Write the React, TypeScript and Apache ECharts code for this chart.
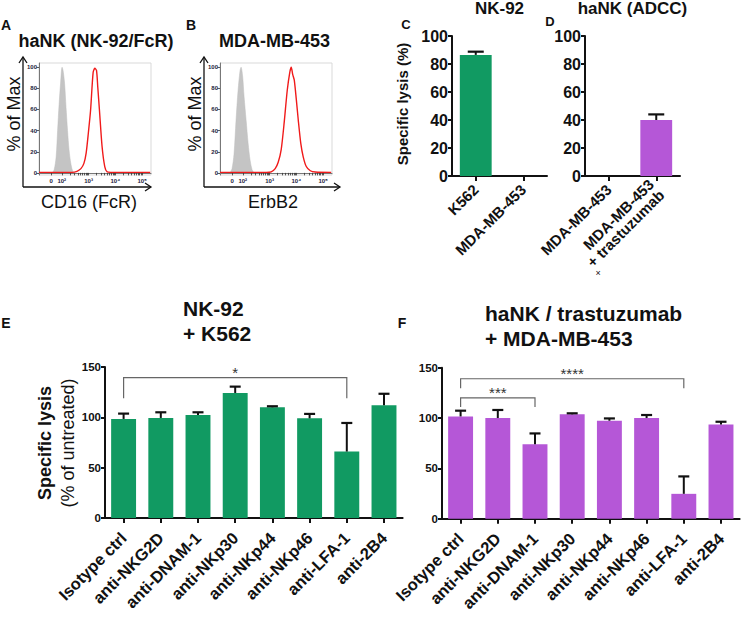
import React, { useEffect, useRef } from "react";
import * as echarts from "echarts";

// ---------- DATA ----------
// Flow histograms (x = log10 fluorescence, y = % of Max)
const GRAY_A: [number, number][] = [
  [1.64, 0], [1.715, 3], [1.789, 15], [1.844, 40], [1.9, 65], [1.956, 85], [2.011, 100],
  [2.048, 97], [2.104, 85], [2.159, 62], [2.215, 40], [2.27, 22], [2.344, 8], [2.419, 1], [2.49, 0],
];
const RED_A: [number, number][] = [
  [1.15, 0.5], [2.38, 0.5], [2.567, 1.5], [2.715, 4], [2.826, 9], [2.911, 19], [2.993, 38],
  [3.074, 59], [3.17, 95], [3.233, 99], [3.296, 97], [3.344, 81], [3.407, 59], [3.504, 25],
  [3.604, 6], [3.689, 1], [3.826, 0.5], [5.3, 0.5],
];
const GRAY_B: [number, number][] = [
  [1.524, 0], [1.599, 4], [1.674, 18], [1.749, 50], [1.824, 78], [1.899, 97], [1.936, 100],
  [1.993, 92], [2.049, 72], [2.124, 50], [2.199, 28], [2.273, 12], [2.348, 3], [2.423, 0],
];
const RED_B: [number, number][] = [
  [1.15, 0.5], [2.873, 0.5], [3.06, 1], [3.21, 4], [3.322, 10], [3.434, 22], [3.547, 48],
  [3.659, 78], [3.753, 95], [3.809, 100], [3.865, 93], [3.921, 88], [3.996, 70], [4.071, 50],
  [4.165, 28], [4.258, 15], [4.371, 6], [4.521, 2], [4.708, 0.8], [5.3, 0.5],
];
const HIST_TICK_VALUES = [1.6, 2, 3, 4, 5];
const HIST_TICK_LABELS = ["0", "10²", "10³", "10⁴", "10⁵"];
const HIST_Y_TICKS = [0, 20, 40, 60, 80, 100];

// Panel C / D
const C_CATS = ["K562", "MDA-MB-453"];
const C_VALS = [86.5, 0];
const C_ERR = [2.3, 0];
const D_CATS = ["MDA-MB-453", "MDA-MB-453\n+ trastuzumab"];
const D_VALS = [0, 40];
const D_ERR = [0, 4];

// Panel E / F
const EF_CATS = [
  "Isotype ctrl", "anti-NKG2D", "anti-DNAM-1", "anti-NKp30",
  "anti-NKp44", "anti-NKp46", "anti-LFA-1", "anti-2B4",
];
const E_VALS = [98.4, 99.4, 102.2, 124.2, 110, 99, 66, 112];
const E_ERR = [5.3, 5.6, 2.8, 6.3, 1, 4.4, 28.4, 11.4];
const F_VALS = [101.6, 100, 74, 103.7, 97.3, 100, 24.7, 93.7];
const F_ERR = [5.7, 8, 10.7, 1, 2.3, 3, 17.3, 2.6];
const E_SIG = [{ from: 0, to: 6, label: "*" }];
const F_SIG = [
  { from: 0, to: 6, label: "****" },
  { from: 0, to: 2, label: "***" },
];

// ---------- STYLE ----------
const FONT = '"Liberation Sans", Arial, Helvetica, sans-serif';
const GREEN = "#119a62";
const PURPLE = "#b557d7";
const BLACK = "#111";

function histMinorTicks(): number[] {
  const out: number[] = [1.6];
  for (let d = 2; d <= 4; d++) {
    for (let k = 1; k <= 9; k++) out.push(d + Math.log10(k));
  }
  out.push(5);
  return out;
}

function txt(x: number, y: number, text: string, size: number, weight = "bold", rot = 0, align = "center") {
  return {
    type: "text",
    x,
    y,
    rotation: rot,
    silent: true,
    style: {
      text,
      fontSize: size,
      fontWeight: weight,
      fontFamily: FONT,
      fill: BLACK,
      align,
      textAlign: align,
      verticalAlign: "middle",
      textVerticalAlign: "middle",
    },
  };
}

function line(points: number[][], w = 1.3, color = BLACK) {
  return {
    type: "polyline",
    silent: true,
    shape: { points },
    style: { stroke: color, lineWidth: w, fill: null },
  };
}

function errRender(halfCap: number) {
  return (params: any, api: any) => {
    const i = api.value(0);
    const v = api.value(1);
    const e = api.value(2);
    if (!e || !v) return { type: "group", children: [] };
    const a = api.coord([i, v]);
    const b = api.coord([i, v + e]);
    return {
      type: "group",
      children: [
        { type: "line", shape: { x1: a[0], y1: a[1], x2: b[0], y2: b[1] }, style: { stroke: BLACK, lineWidth: 2 } },
        { type: "line", shape: { x1: b[0] - halfCap, y1: b[1], x2: b[0] + halfCap, y2: b[1] }, style: { stroke: BLACK, lineWidth: 2.2 } },
      ],
    };
  };
}

function sigRender(sig: { from: number; to: number; label: string }[], levels: number[], legs: number[]) {
  return (params: any, api: any) => {
    const s = sig[params.dataIndex];
    const lv = levels[params.dataIndex];
    const lg = legs[params.dataIndex];
    const p1 = api.coord([s.from, lv]);
    const p2 = api.coord([s.to, lv]);
    const q = api.coord([s.from, lg]);
    return {
      type: "group",
      children: [
        {
          type: "polyline",
          shape: { points: [[p1[0], q[1]], [p1[0], p1[1]], [p2[0], p2[1]], [p2[0], q[1]]] },
          style: { stroke: "#666", lineWidth: 1.2, fill: null },
        },
        {
          type: "text",
          x: (p1[0] + p2[0]) / 2,
          y: p1[1] - 5,
          style: {
            text: s.label, fontSize: 15, fontFamily: FONT, fill: "#333",
            align: "center", textAlign: "center", verticalAlign: "middle", textVerticalAlign: "middle",
          },
        },
      ],
    };
  };
}

function histX(grid: number) {
  return {
    type: "value", gridIndex: grid, min: 1.15, max: 5.33,
    axisLine: { show: true, lineStyle: { color: "#777", width: 1 } },
    axisTick: { show: true, length: 2.5, customValues: histMinorTicks(), lineStyle: { color: "#333", width: 0.8 } },
    axisLabel: {
      customValues: HIST_TICK_VALUES,
      formatter: (v: number) => {
        const idx = HIST_TICK_VALUES.findIndex((t) => Math.abs(t - v) < 1e-6);
        return idx >= 0 ? HIST_TICK_LABELS[idx] : "";
      },
      fontSize: 6, fontWeight: "bold", color: "#1c1c3c", margin: 3, fontFamily: FONT,
    },
    splitLine: { show: false },
  };
}
function histY(grid: number) {
  return {
    type: "value", gridIndex: grid, min: -2, max: 104,
    axisLine: { show: true, lineStyle: { color: "#777", width: 1 } },
    axisTick: { show: true, length: 2.5, customValues: HIST_Y_TICKS, lineStyle: { color: "#333", width: 0.8 } },
    axisLabel: { customValues: HIST_Y_TICKS, fontSize: 6, fontWeight: "bold", color: "#1c1c3c", margin: 2, fontFamily: FONT },
    splitLine: { show: false },
  };
}
function barX(grid: number, cats: string[], size: number, margin: number, padding: number[]) {
  return {
    type: "category", gridIndex: grid, data: cats,
    axisLine: { show: true, lineStyle: { color: BLACK, width: 2 } },
    axisTick: { show: true, alignWithLabel: true, length: 5, lineStyle: { color: BLACK, width: 2 } },
    axisLabel: {
      interval: 0, rotate: 45, fontSize: size, fontWeight: "bold", color: BLACK,
      margin, padding, fontFamily: FONT,
    },
    splitLine: { show: false },
  };
}
function barY(grid: number, max: number, interval: number, size: number) {
  return {
    type: "value", gridIndex: grid, min: 0, max, interval,
    axisLine: { show: true, lineStyle: { color: BLACK, width: 2 } },
    axisTick: { show: true, length: 4, lineStyle: { color: BLACK, width: 2 } },
    axisLabel: { fontSize: size, fontWeight: "bold", color: BLACK, margin: 4, fontFamily: FONT },
    splitLine: { show: false },
  };
}

export default function App() {
  const ref = useRef<HTMLDivElement>(null);
  useEffect(() => {
    document.body.style.margin = "0";
    if (!ref.current) return;
    const chart = echarts.init(ref.current, undefined, { renderer: "svg" });
    const histGrid = { show: true, borderColor: "#d9d9d9", borderWidth: 1 };
    const option: any = {
      animation: false,
      backgroundColor: "#fff",
      textStyle: { fontFamily: FONT },
      grid: [
        { left: 39, top: 63, width: 112, height: 112, ...histGrid },
        { left: 220, top: 63, width: 112, height: 112, ...histGrid },
        { left: 452, top: 36, width: 95, height: 140 },
        { left: 585, top: 36, width: 95, height: 140 },
        { left: 105, top: 367, width: 297.6, height: 151 },
        { left: 442, top: 367.7, width: 297.6, height: 151 },
      ],
      xAxis: [
        histX(0), histX(1),
        barX(2, C_CATS, 15, 11, [20, 0, 0, 0]), barX(3, D_CATS, 15, 11, [20, 0, 0, 0]),
        barX(4, EF_CATS, 16.5, 17, [0, 0, 0, 0]), barX(5, EF_CATS, 16.5, 17, [0, 0, 0, 0]),
      ],
      yAxis: [
        histY(0), histY(1),
        barY(2, 100, 20, 16), barY(3, 100, 20, 16),
        barY(4, 150, 50, 11.5), barY(5, 150, 50, 11.5),
      ],
      series: [
        { type: "line", xAxisIndex: 0, yAxisIndex: 0, data: GRAY_A, symbol: "none", smooth: 0.3, lineStyle: { width: 0.5, color: "#bdbdbd" }, areaStyle: { color: "#c4c4c4", opacity: 1 }, z: 2 },
        { type: "line", xAxisIndex: 0, yAxisIndex: 0, data: RED_A, symbol: "none", smooth: 0.25, lineStyle: { width: 1.4, color: "#f01a1a" }, z: 3 },
        { type: "line", xAxisIndex: 1, yAxisIndex: 1, data: GRAY_B, symbol: "none", smooth: 0.3, lineStyle: { width: 0.5, color: "#bdbdbd" }, areaStyle: { color: "#c4c4c4", opacity: 1 }, z: 2 },
        { type: "line", xAxisIndex: 1, yAxisIndex: 1, data: RED_B, symbol: "none", smooth: 0.25, lineStyle: { width: 1.4, color: "#f01a1a" }, z: 3 },

        { type: "bar", xAxisIndex: 2, yAxisIndex: 2, data: C_VALS, barWidth: "67%", itemStyle: { color: GREEN } },
        { type: "custom", xAxisIndex: 2, yAxisIndex: 2, data: C_VALS.map((v, i) => [i, v, C_ERR[i]]), renderItem: errRender(8), encode: { x: 0, y: 1 }, z: 5 },
        { type: "bar", xAxisIndex: 3, yAxisIndex: 3, data: D_VALS, barWidth: "67%", itemStyle: { color: PURPLE } },
        { type: "custom", xAxisIndex: 3, yAxisIndex: 3, data: D_VALS.map((v, i) => [i, v, D_ERR[i]]), renderItem: errRender(8), encode: { x: 0, y: 1 }, z: 5 },

        { type: "bar", xAxisIndex: 4, yAxisIndex: 4, data: E_VALS, barWidth: "67%", itemStyle: { color: GREEN } },
        { type: "custom", xAxisIndex: 4, yAxisIndex: 4, data: E_VALS.map((v, i) => [i, v, E_ERR[i]]), renderItem: errRender(5.5), encode: { x: 0, y: 1 }, z: 5 },
        { type: "custom", xAxisIndex: 4, yAxisIndex: 4, data: E_SIG.map((s) => [s.from, s.to]), renderItem: sigRender(E_SIG, [139.5], [119]), encode: { x: 0 }, z: 6 },

        { type: "bar", xAxisIndex: 5, yAxisIndex: 5, data: F_VALS, barWidth: "67%", itemStyle: { color: PURPLE } },
        { type: "custom", xAxisIndex: 5, yAxisIndex: 5, data: F_VALS.map((v, i) => [i, v, F_ERR[i]]), renderItem: errRender(5.5), encode: { x: 0, y: 1 }, z: 5 },
        { type: "custom", xAxisIndex: 5, yAxisIndex: 5, data: F_SIG.map((s) => [s.from, s.to]), renderItem: sigRender(F_SIG, [139, 120], [129.5, 111]), encode: { x: 0 }, z: 6 },
      ],
      graphic: [
        // panel letters
        txt(6, 25, "A", 14), txt(191, 25, "B", 14), txt(406, 24, "C", 13), txt(550, 21, "D", 13),
        txt(6, 323, "E", 14), txt(402, 323, "F", 14),
        // titles
        txt(96, 41, "haNK (NK-92/FcR)", 18), txt(274.5, 41, "MDA-MB-453", 18),
        txt(499.5, 8, "NK-92", 17), txt(632.5, 8, "haNK (ADCC)", 17),
        txt(183, 308, "NK-92", 21, "bold", 0, "left"), txt(183, 333, "+ K562", 21, "bold", 0, "left"),
        txt(485, 313, "haNK / trastuzumab", 21, "bold", 0, "left"), txt(485, 338, "+ MDA-MB-453", 21, "bold", 0, "left"),
        // histogram axis titles
        txt(13.5, 114, "% of Max", 18, "normal", Math.PI / 2), txt(194.5, 114, "% of Max", 18, "normal", Math.PI / 2),
        txt(89, 202, "CD16 (FcR)", 18, "normal"), txt(273, 202, "ErbB2", 18, "normal"),
        // bar axis titles
        txt(402, 104, "Specific lysis (%)", 15, "bold", Math.PI / 2),
        txt(45, 443, "Specific lysis", 18, "bold", Math.PI / 2),
        txt(68, 443, "(% of untreated)", 18, "normal", Math.PI / 2),
        txt(598, 273, "×", 9, "normal"),
        // histogram arrows
        line([[23, 187], [23, 57]]), line([[19, 63], [23, 57], [27, 63]]),
        line([[23, 187], [151, 187]]), line([[145, 183], [151, 187], [145, 191]]),
        line([[204, 187], [204, 57]]), line([[200, 63], [204, 57], [208, 63]]),
        line([[204, 187], [340, 187]]), line([[334, 183], [340, 187], [334, 191]]),
      ],
    };
    chart.setOption(option);
    return () => chart.dispose();
  }, []);
  return <div ref={ref} style={{ width: 742, height: 618 }} />;
}
